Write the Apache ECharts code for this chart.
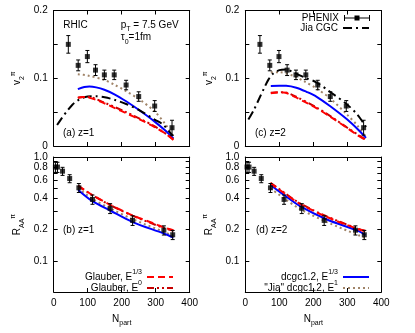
<!DOCTYPE html>
<html>
<head>
<meta charset="utf-8">
<script src="https://cdn.jsdelivr.net/npm/echarts@6.0.0/dist/echarts.min.js"></script>
<style>
html, body { margin: 0; padding: 0; background: #fff; }
#chart { width: 415px; height: 333px; }
</style>
</head>
<body>
<div id="chart"></div>
<script>
// PHENIX pi0 data
const v2Npart = [43, 72, 99, 123, 149, 178, 213, 250, 297, 348];
const v2Phenix = [0.150, 0.119, 0.132, 0.112, 0.105, 0.105, 0.090, 0.073, 0.059, 0.027];
const v2Err = [0.013, 0.008, 0.009, 0.008, 0.007, 0.007, 0.007, 0.007, 0.008, 0.011];
const raaNpart = [5, 11, 26, 47, 74, 114, 166, 232, 324, 350];
const raaPhenix = [0.80, 0.80, 0.73, 0.62, 0.505, 0.39, 0.32, 0.245, 0.197, 0.178];
const raaErr = [0.09, 0.09, 0.065, 0.055, 0.05, 0.04, 0.035, 0.026, 0.02, 0.018];

// model curves, [Npart, value]
// (a) v2, z=1
const jiaCgcA = [[10, 0.031], [25, 0.042], [40, 0.052], [55, 0.061], [70, 0.067], [85, 0.071], [100, 0.073], [125, 0.0735], [150, 0.072], [180, 0.068], [213, 0.062], [255, 0.052], [297, 0.039], [323, 0.031], [350, 0.015]];
const jiaDcgcA = [[71, 0.106], [100, 0.104], [149, 0.0975], [180, 0.090], [213, 0.081], [254, 0.068], [297, 0.051], [330, 0.031], [352, 0.013]];
const dcgcA = [[71, 0.084], [90, 0.087], [105, 0.0877], [125, 0.0865], [149, 0.083], [180, 0.076], [213, 0.066], [254, 0.052], [297, 0.036], [330, 0.022], [352, 0.011]];
const glauber13A = [[71, 0.071], [85, 0.0725], [100, 0.072], [125, 0.068], [149, 0.063], [180, 0.056], [213, 0.0485], [254, 0.039], [297, 0.028], [330, 0.018], [352, 0.009]];
const glauber0A = [[71, 0.0715], [100, 0.0725], [149, 0.064], [213, 0.050], [254, 0.040], [297, 0.029], [352, 0.010]];
// (c) v2, z=2
const jiaCgcC = [[9, 0.039], [25, 0.053], [40, 0.069], [55, 0.085], [68, 0.098], [82, 0.107], [100, 0.112], [120, 0.113], [144, 0.108], [175, 0.101], [209, 0.094], [249, 0.080], [300, 0.061], [330, 0.046], [355, 0.028]];
const jiaDcgcC = [[75, 0.109], [100, 0.109], [144, 0.103], [175, 0.095], [209, 0.085], [249, 0.0705], [300, 0.046], [330, 0.030], [355, 0.012]];
const dcgcC = [[75, 0.0887], [100, 0.089], [120, 0.0888], [150, 0.086], [180, 0.080], [209, 0.073], [249, 0.059], [300, 0.039], [330, 0.025], [355, 0.012]];
const glauber13C = [[75, 0.078], [95, 0.079], [112, 0.079], [144, 0.073], [175, 0.065], [209, 0.056], [249, 0.0435], [300, 0.0265], [330, 0.016], [355, 0.0085]];
const glauber0C = [[75, 0.0785], [112, 0.0795], [144, 0.074], [209, 0.057], [249, 0.0445], [300, 0.027], [355, 0.009]];
// (b) RAA, z=1
const jiaDcgcB = [[72, 0.50], [114, 0.395], [166, 0.32], [232, 0.252], [324, 0.19], [352, 0.174]];
const dcgcB = [[72, 0.482], [114, 0.375], [166, 0.305], [232, 0.236], [324, 0.183], [352, 0.167]];
const glauber13B = [[72, 0.53], [114, 0.43], [166, 0.346], [232, 0.274], [300, 0.225], [324, 0.209], [352, 0.197]];
const glauber0B = [[72, 0.525], [114, 0.428], [166, 0.344], [232, 0.272], [324, 0.207], [352, 0.195]];
// (d) RAA, z=2
const jiaDcgcD = [[74, 0.50], [114, 0.40], [161, 0.315], [240, 0.236], [335, 0.175], [353, 0.165]];
const dcgcD = [[74, 0.538], [114, 0.43], [161, 0.336], [240, 0.25], [335, 0.192], [353, 0.176]];
const glauber13D = [[74, 0.558], [114, 0.45], [161, 0.354], [240, 0.264], [335, 0.20], [353, 0.193]];
const glauber0D = [[74, 0.565], [114, 0.455], [161, 0.357], [240, 0.267], [335, 0.202], [353, 0.195]];

// axis ticks and labels
const npartTicks = [0, 100, 200, 300, 400];
const v2Ticks = [0, 0.05, 0.1, 0.15, 0.2];
const v2Labels = [0, 0.1, 0.2];
const raaTicks = [0.1, 0.2, 0.3, 0.4, 0.5, 0.6, 0.7, 0.8, 0.9, 1.0];
const raaLabels = [0.1, 0.2, 0.4, 0.6, 0.8, 1.0];

const FONT = '"Liberation Sans", Arial, sans-serif';
const rich = {
  sub: { fontSize: 7, fontFamily: FONT, verticalAlign: 'bottom', lineHeight: 16, padding: [5, 0, 0, 0] },
  sup: { fontSize: 7, fontFamily: FONT, verticalAlign: 'top', lineHeight: 16, padding: [0, 0, 5, 0] }
};

const styles = {
  jiaCgc: { color: '#000000', type: [9, 4, 2, 4] },
  jiaDcgc: { color: '#a08468', type: [2, 3] },
  dcgc: { color: '#0000ff', type: 'solid' },
  glauber13: { color: '#ff0000', type: [7, 4] },
  glauber0: { color: '#c80000', type: [7, 3, 2, 3, 2, 3] }
};
const labelText = {
  PHENIX: 'PHENIX',
  jiaCgc: 'Jia CGC',
  glauber13: 'Glauber, E{sup|1/3}',
  glauber0: 'Glauber, E{sup|0}',
  dcgc: 'dcgc1.2, E{sup|1/3}',
  jiaDcgc: '"Jia" dcgc1.2, E{sup|1}'
};

const grids = [
  { left: 53.7, top: 10.5, width: 136, height: 135.5 },
  { left: 245.3, top: 10.5, width: 136, height: 135.5 },
  { left: 53.7, top: 157, width: 136, height: 135 },
  { left: 245.3, top: 157, width: 136, height: 135 }
];

function lineSeries(key, pts, g) {
  const s = styles[key];
  return {
    name: key, type: 'line', xAxisIndex: 2 * g, yAxisIndex: 2 * g,
    data: pts, symbol: 'none', showSymbol: false, smooth: 0.3,
    lineStyle: { color: s.color, width: 2, type: s.type },
    itemStyle: { color: s.color }, silent: true, z: 3
  };
}

function errRender(params, api) {
  const x = api.value(0), y = api.value(1), e = api.value(2);
  const hi = api.coord([x, y + e]);
  const lo = api.coord([x, y - e]);
  const st = { stroke: '#000', lineWidth: 1 };
  return {
    type: 'group', children: [
      { type: 'line', shape: { x1: hi[0], y1: hi[1], x2: lo[0], y2: lo[1] }, style: st },
      { type: 'line', shape: { x1: hi[0] - 2, y1: hi[1], x2: hi[0] + 2, y2: hi[1] }, style: st },
      { type: 'line', shape: { x1: lo[0] - 2, y1: lo[1], x2: lo[0] + 2, y2: lo[1] }, style: st }
    ]
  };
}

function phenixSeries(N, v, e, g) {
  return [
    {
      name: 'PHENIX', type: 'custom', xAxisIndex: 2 * g, yAxisIndex: 2 * g,
      data: N.map((n, i) => [n, v[i], e[i]]), encode: { x: 0, y: 1 },
      renderItem: errRender, itemStyle: { color: '#000' }, silent: true, z: 5
    },
    {
      name: 'PHENIX', type: 'scatter', xAxisIndex: 2 * g, yAxisIndex: 2 * g,
      data: N.map((n, i) => [n, v[i]]), symbol: 'rect', symbolSize: 5,
      itemStyle: { color: '#000' }, silent: true, z: 6
    }
  ];
}

const axisLine = { show: true, onZero: false, lineStyle: { color: '#000', width: 1 } };
const tickStyle = { show: true, inside: true, length: 4, lineStyle: { color: '#000', width: 1 } };
const labelStyle = { color: '#000', fontFamily: FONT, fontSize: 10 };

const xAxes = [];
const yAxes = [];
grids.forEach((gr, g) => {
  const bottomRow = g >= 2;
  ['bottom', 'top'].forEach((pos) => {
    const ax = {
      type: 'value', gridIndex: g, position: pos, min: 0, max: 400, interval: 100,
      axisLine, axisTick: tickStyle, splitLine: { show: false },
      axisLabel: Object.assign({ show: bottomRow && pos === 'bottom', margin: 6,
        customValues: npartTicks }, labelStyle)
    };
    if (bottomRow && pos === 'bottom') {
      ax.name = 'N{sub|part}';
      ax.nameLocation = 'middle';
      ax.nameGap = 19;
      ax.nameTextStyle = Object.assign({ rich }, labelStyle, { fontSize: 10 });
    }
    xAxes.push(ax);
  });
  ['left', 'right'].forEach((pos) => {
    let ax;
    if (!bottomRow) {
      ax = {
        type: 'value', min: 0, max: 0.2, interval: 0.05,
        axisTick: Object.assign({ customValues: v2Ticks }, tickStyle),
        axisLabel: Object.assign({ show: pos === 'left', margin: 6, customValues: v2Labels,
          formatter: (v) => (v === 0 ? '0' : v.toFixed(1)) }, labelStyle)
      };
      if (pos === 'left') ax.name = 'v{sub|2}{sup|π}';
    } else {
      ax = {
        type: 'log', logBase: 10, min: 0.05, max: 1,
        axisTick: Object.assign({ customValues: raaTicks }, tickStyle),
        axisLabel: Object.assign({ show: pos === 'left', margin: 6, customValues: raaLabels,
          formatter: (v) => v.toFixed(1) }, labelStyle)
      };
      if (pos === 'left') ax.name = 'R{sub|AA}{sup|π}';
    }
    Object.assign(ax, { gridIndex: g, position: pos, axisLine, splitLine: { show: false },
      minorTick: { show: false } });
    if (pos === 'left') {
      ax.nameLocation = 'middle';
      ax.nameGap = 28;
      ax.nameRotate = 90;
      ax.nameTextStyle = Object.assign({ rich }, labelStyle, { fontSize: 10 });
    }
    yAxes.push(ax);
  });
});

const series = [
  lineSeries('jiaDcgc', jiaDcgcA, 0), lineSeries('dcgc', dcgcA, 0), lineSeries('jiaCgc', jiaCgcA, 0),
  lineSeries('glauber0', glauber0A, 0), lineSeries('glauber13', glauber13A, 0),
  lineSeries('jiaDcgc', jiaDcgcC, 1), lineSeries('dcgc', dcgcC, 1), lineSeries('jiaCgc', jiaCgcC, 1),
  lineSeries('glauber0', glauber0C, 1), lineSeries('glauber13', glauber13C, 1),
  lineSeries('jiaDcgc', jiaDcgcB, 2), lineSeries('dcgc', dcgcB, 2),
  lineSeries('glauber0', glauber0B, 2), lineSeries('glauber13', glauber13B, 2),
  lineSeries('jiaDcgc', jiaDcgcD, 3), lineSeries('dcgc', dcgcD, 3),
  lineSeries('glauber0', glauber0D, 3), lineSeries('glauber13', glauber13D, 3)
].concat(
  phenixSeries(v2Npart, v2Phenix, v2Err, 0),
  phenixSeries(v2Npart, v2Phenix, v2Err, 1),
  phenixSeries(raaNpart, raaPhenix, raaErr, 2),
  phenixSeries(raaNpart, raaPhenix, raaErr, 3)
);

const phenixIcon = 'path://M0,3.5H26V4.5H0Z M10.5,1.5H15.5V6.5H10.5Z M0,1H1V7H0Z M25,1H26V7H25Z';
const legendSpots = [
  { name: 'PHENIX', right: 45, top: 13, icon: phenixIcon },
  { name: 'jiaCgc', right: 45, top: 23 },
  { name: 'glauber13', right: 241, top: 269 },
  { name: 'glauber0', right: 241, top: 280 },
  { name: 'dcgc', right: 45, top: 269 },
  { name: 'jiaDcgc', right: 45, top: 280 }
];
const legends = legendSpots.map((l) => ({
  show: true, orient: 'horizontal', align: 'right', right: l.right, top: l.top,
  padding: 0, itemGap: 0, itemWidth: 26, itemHeight: 8, selectedMode: false,
  data: [l.icon ? { name: l.name, icon: l.icon } : { name: l.name }],
  itemStyle: l.icon ? { color: '#000' } : { opacity: 0 },
  lineStyle: { width: 2 },
  formatter: (n) => labelText[n],
  textStyle: { color: '#000', fontFamily: FONT, fontSize: 10, rich }
}));

function txt(x, y, text) {
  return { type: 'text', x, y, silent: true,
    style: { text, fill: '#000', font: '10px ' + FONT, verticalAlign: 'middle', rich } };
}
const graphics = [
  txt(63.3, 25, 'RHIC'),
  txt(120.7, 25, 'p{sub|T} = 7.5 GeV'),
  txt(120.7, 37.5, 'τ{sub|0}=1fm'),
  txt(63, 133.5, '(a) z=1'),
  txt(255, 133.5, '(c) z=2'),
  txt(63, 230, '(b) z=1'),
  txt(256, 230, '(d) z=2')
];

const chart = echarts.init(document.getElementById('chart'));
chart.setOption({
  animation: false,
  backgroundColor: '#fff',
  grid: grids.map((g) => Object.assign({ show: false, containLabel: false, outerBoundsMode: 'none' }, g)),
  xAxis: xAxes,
  yAxis: yAxes,
  legend: legends,
  graphic: graphics,
  series
});
</script>
</body>
</html>
